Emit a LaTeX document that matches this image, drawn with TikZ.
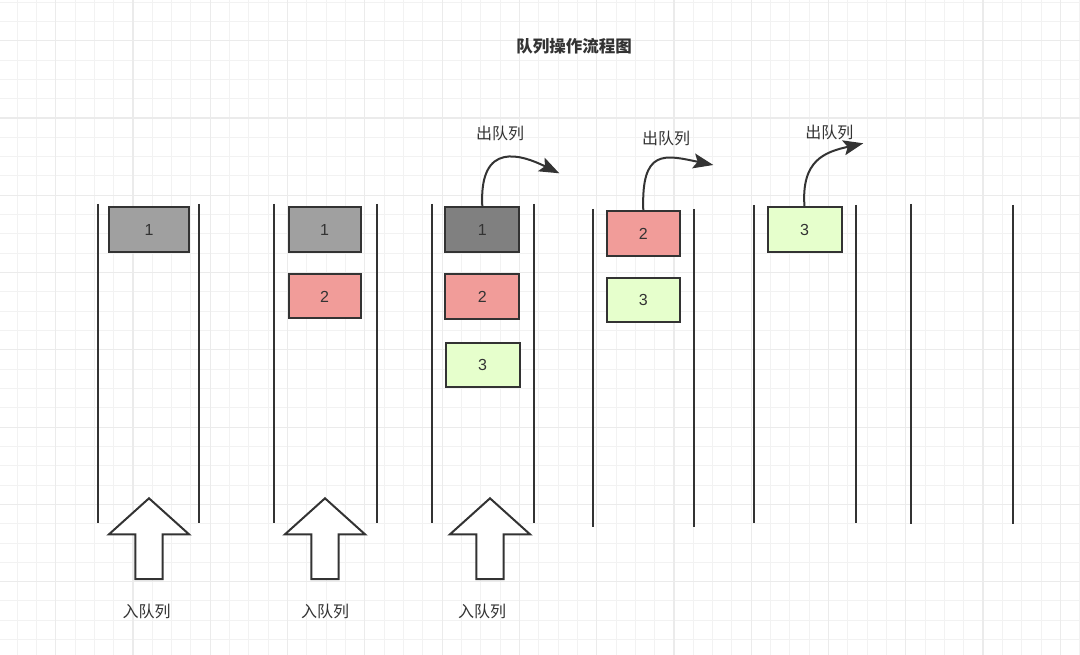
\documentclass[tikz,border=0pt]{standalone}
\usepackage{fontspec}
\setmainfont{Liberation Sans}
\newfontfamily\cjk{Noto Sans CJK SC}
\usetikzlibrary{arrows.meta}
\definecolor{ink}{HTML}{333333}
\definecolor{gminor}{HTML}{F2F2F2}
\definecolor{gmajor}{HTML}{EBEBEB}
\definecolor{grayA}{HTML}{A0A0A0}
\definecolor{grayB}{HTML}{808080}
\definecolor{pinkf}{HTML}{F19C99}
\definecolor{greenf}{HTML}{E6FFCC}
\begin{document}
\begin{tikzpicture}[x=1pt,y=-1pt,
  qbox/.style={draw=ink, line width=2pt, minimum height=45pt, inner sep=0pt,
    font=\fontsize{16}{16}\selectfont, text=ink},
  wall/.style={draw=ink, line width=2pt},
  inarrow/.style={draw=ink, fill=white, line width=2pt, line join=miter},
  outarrow/.style={draw=ink, line width=2pt, -{Stealth[length=20pt,width=15pt,inset=4pt]}},
  lbl/.style={font=\cjk\fontsize{16}{16}\selectfont, text=ink, inner sep=0pt},
  ttl/.style={font=\cjk\bfseries\fontsize{16.5}{16.5}\selectfont, text=ink, inner sep=0pt}]
\useasboundingbox (0,0) rectangle (1080,655);
\fill[white] (0,0) rectangle (1080,655);
\begin{scope}
\clip (0,0) rectangle (1080,655);
\foreach \i in {0,...,56} \draw[gminor, line width=1pt] ({-2.22+\i*19.32},0) -- ++(0,655);
\foreach \j in {0,...,33} \draw[gminor, line width=1pt] (0,{2.06+\j*19.32}) -- ++(1080,0);
\foreach \k in {0,...,13} \draw[gmajor, line width=1.2pt] ({55.7+\k*77.28},0) -- ++(0,655);
\foreach \k in {0,...,7} \draw[gmajor, line width=1.2pt] (0,{40.7+\k*77.28}) -- ++(1080,0);
\end{scope}

% title
\node[ttl] (title) at (574,46.7) {队列操作流程图};

% walls
\draw[wall] (97.7,204) -- (97.7,523.3);
\draw[wall] (199.3,204) -- (199.3,523.3);
\draw[wall] (274.3,204) -- (274.3,523.3);
\draw[wall] (376.7,204) -- (376.7,523.3);
\draw[wall] (432,204) -- (432,523.3);
\draw[wall] (534,204) -- (534,523.3);
\draw[wall] (592.7,209) -- (592.7,527);
\draw[wall] (694.3,209) -- (694.3,527);
\draw[wall] (754,205) -- (754,523.3);
\draw[wall] (856,205) -- (856,523.3);
\draw[wall] (911,204) -- (911,524);
\draw[wall] (1012.7,205) -- (1012.7,524);

% boxes
\node[qbox, fill=grayA, minimum width=80pt] (a1) at (149,229.5) {1};
\node[qbox, fill=grayA, minimum width=72pt] (b1) at (324.5,229.8) {1};
\node[qbox, fill=pinkf, minimum width=72pt, minimum height=44pt] (b2) at (324.5,296.5) {2};
\node[qbox, fill=grayB, minimum width=74pt] (c1) at (482.3,229.5) {1};
\node[qbox, fill=pinkf, minimum width=74pt] (c2) at (482.3,296.5) {2};
\node[qbox, fill=greenf, minimum width=74pt, minimum height=44pt] (c3) at (482.5,364.7) {3};
\node[qbox, fill=pinkf, minimum width=73pt] (d2) at (643.3,234) {2};
\node[qbox, fill=greenf, minimum width=73pt, minimum height=44pt] (d3) at (643.3,300.3) {3};
\node[qbox, fill=greenf, minimum width=74pt] (e3) at (804.5,230) {3};

% enqueue arrows
\foreach \cx/\nm in {149/ia, 325/ib, 490/ic}{
  \coordinate (\nm) at (\cx,498.3);
  \draw[inarrow] (\nm) -- ++(40,36) -- ++(-26.3,0) -- ++(0,44.7) -- ++(-27.4,0)
     -- ++(0,-44.7) -- ++(-26.3,0) -- cycle;
}
\node[lbl] (la) at (146.7,611.7) {入队列};
\node[lbl] (lb) at (325,611.7) {入队列};
\node[lbl] (lc) at (482,611.7) {入队列};

% dequeue arrows
\coordinate (oc) at (559.3,173.3);
\coordinate (od) at (713.3,165);
\coordinate (oe) at (863.3,143.3);
\draw[outarrow] (c1.north) .. controls (479,140) and (522,155) .. (oc);
\draw[outarrow] (d2.north) .. controls (641,148) and (665,155) .. (od);
\draw[outarrow] (e3.north) .. controls (801,160) and (825,152) .. (oe);
\node[lbl] (mc) at (500,133.3) {出队列};
\node[lbl] (md) at (666,138.3) {出队列};
\node[lbl] (me) at (829.3,132.7) {出队列};
\end{tikzpicture}
\end{document}
